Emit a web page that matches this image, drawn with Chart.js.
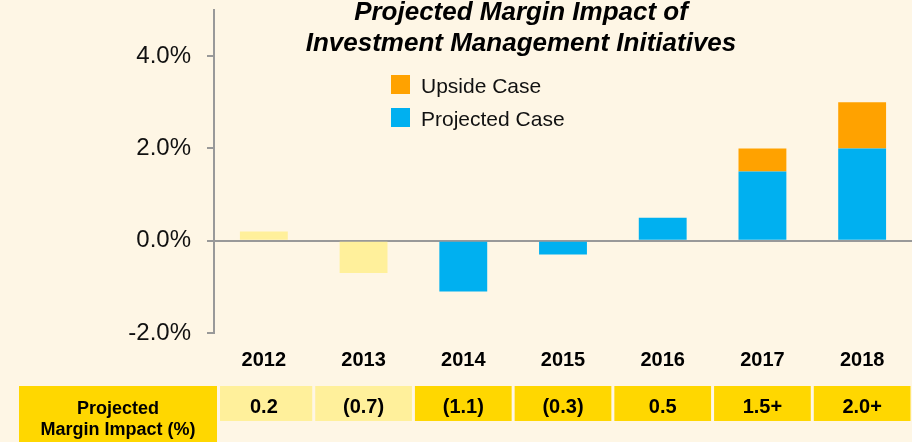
<!DOCTYPE html>
<html>
<head>
<meta charset="utf-8">
<script src="https://cdn.jsdelivr.net/npm/chart.js@4.4.1/dist/chart.umd.min.js"></script>
<style>
  html, body { margin: 0; padding: 0; background: #fef6e5; }
  #wrap { width: 912px; height: 442px; position: relative; }
</style>
</head>
<body>
<div id="wrap"><canvas id="myChart"></canvas></div>
<script>
// chart data
const years = ['2012', '2013', '2014', '2015', '2016', '2017', '2018'];
const actualCase = [0.2, -0.7, null, null, null, null, null];
const projectedCase = [null, null, -1.1, -0.3, 0.5, 1.5, 2.0];
const upsideCase = [null, null, null, null, null, 0.5, 1.0];
const impactLabels = ['0.2', '(0.7)', '(1.1)', '(0.3)', '0.5', '1.5+', '2.0+'];
const yTicks = [-2, 0, 2, 4];

const FONT = "'Liberation Sans', Arial, sans-serif";
const BLUE = '#00b0f0';
const ORANGE = '#ffa200';
const PALE = '#fff09b';
const GOLD = '#ffd700';
const GRAY = '#999999';

// title, legend and table drawn on the canvas
const extras = {
  id: 'extras',
  afterDraw(chart) {
    const c = chart.ctx;
    const x = chart.scales.x;
    c.save();
    c.fillStyle = '#000';
    c.textAlign = 'center';
    c.textBaseline = 'alphabetic';
    c.font = 'italic bold 26px ' + FONT;
    c.fillText('Projected Margin Impact of', 521, 20);
    c.fillText('Investment Management Initiatives', 521, 51);

    // legend
    c.textAlign = 'left';
    c.font = '21px ' + FONT;
    c.fillStyle = ORANGE;
    c.fillRect(391, 75, 19, 19);
    c.fillStyle = BLUE;
    c.fillRect(391, 108, 19, 19);
    c.fillStyle = '#111';
    c.fillText('Upside Case', 421, 93);
    c.fillText('Projected Case', 421, 126);

    // table row
    const top = 386, h = 35;
    c.fillStyle = GOLD;
    c.fillRect(19, top, chart.chartArea.left + 3 - 19, chart.height - top);
    c.fillStyle = '#000';
    c.textAlign = 'center';
    c.font = 'bold 18px ' + FONT;
    c.fillText('Projected', 118, 414);
    c.fillText('Margin Impact (%)', 118, 435);

    const step = x.getPixelForValue(1) - x.getPixelForValue(0);
    years.forEach((y, i) => {
      const cx = x.getPixelForValue(i);
      let l = cx - step / 2 + 1.5;
      if (i === 0) l = chart.chartArea.left + 6;
      const r = cx + step / 2 - 1.5;
      c.fillStyle = actualCase[i] !== null ? PALE : GOLD;
      c.fillRect(l, top, r - l, h);
      c.fillStyle = '#000';
      c.font = 'bold 20px ' + FONT;
      c.fillText(impactLabels[i], cx, 413);
    });
    c.restore();
  }
};

const ctx = document.getElementById('myChart').getContext('2d');
const chart = new Chart(ctx, {
  type: 'bar',
  data: {
    labels: years,
    datasets: [
      { label: 'Actual', data: actualCase, backgroundColor: PALE },
      { label: 'Projected Case', data: projectedCase, backgroundColor: BLUE },
      { label: 'Upside Case', data: upsideCase, backgroundColor: ORANGE }
    ]
  },
  options: {
    responsive: true,
    maintainAspectRatio: false,
    animation: false,
    layout: { padding: { top: 10, right: 0, bottom: 0, left: 0 } },
    datasets: { bar: { categoryPercentage: 0.48, barPercentage: 1, borderWidth: 0 } },
    plugins: { legend: { display: false }, tooltip: { enabled: false }, title: { display: false } },
    scales: {
      x: {
        stacked: true,
        afterFit: s => { s.height = 109; },
        grid: { display: false, drawTicks: false },
        border: { display: false },
        ticks: { padding: 15, color: '#000', font: { family: FONT, size: 20, weight: 'bold' } }
      },
      y: {
        stacked: true,
        min: -2,
        max: 5,
        afterFit: s => { s.width = 214; s.paddingTop = 0; s.paddingBottom = 0; },
        afterBuildTicks: s => { s.ticks = yTicks.map(v => ({ value: v })); },
        border: { display: true, color: GRAY, width: 2 },
        grid: {
          drawOnChartArea: true,
          lineWidth: 2,
          tickLength: 7,
          tickColor: GRAY,
          color: c => (c.tick && c.tick.value === 0 ? GRAY : 'transparent')
        },
        ticks: {
          padding: 16,
          color: '#111',
          font: { family: FONT, size: 24 },
          callback: v => v.toFixed(1) + '%'
        }
      }
    }
  },
  plugins: [extras]
});
</script>
</body>
</html>
